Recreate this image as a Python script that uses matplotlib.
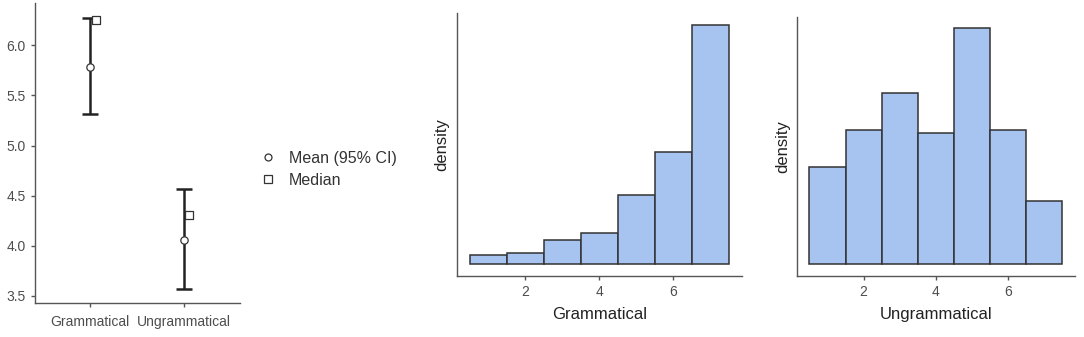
import matplotlib
matplotlib.use("Agg")
import matplotlib.pyplot as plt
from matplotlib.lines import Line2D

plt.rcParams['font.family'] = ['Liberation Sans', 'DejaVu Sans']

# descriptives
groups = ['Grammatical', 'Ungrammatical']
means = [5.78, 4.06]
ci_low = [5.31, 3.57]
ci_high = [6.27, 4.57]
medians = [6.25, 4.31]

# histograms (density per bin)
bin_centers = [1, 2, 3, 4, 5, 6, 7]
dens_gram = [0.018, 0.022, 0.049, 0.062, 0.139, 0.227, 0.483]
dens_ungram = [0.100, 0.139, 0.177, 0.136, 0.244, 0.139, 0.065]

fill = '#a6c4ef'
edge = '#333333'
axcol = '#555555'
tickcol = '#4d4d4d'

fig = plt.figure(figsize=(10.84, 3.37), dpi=100)


def style(ax):
    for s in ['top', 'right']:
        ax.spines[s].set_visible(False)
    for s in ['left', 'bottom']:
        ax.spines[s].set_color(axcol)
        ax.spines[s].set_linewidth(1.0)
    ax.tick_params(colors=axcol, labelcolor=tickcol, labelsize=10, length=3, width=1)


# --- left: means with CI ---
ax1 = fig.add_axes([0.0323, 0.1009, 0.189, 0.890])
xs = list(range(len(groups)))
for i in xs:
    ax1.errorbar(i, means[i], yerr=[[means[i] - ci_low[i]], [ci_high[i] - means[i]]],
                 fmt='none', ecolor='#222222', elinewidth=1.8, capsize=5.5, capthick=1.8, zorder=2)
ax1.scatter(xs, means, marker='o', s=28, facecolor='white', edgecolor='#333333',
            linewidth=0.9, zorder=3)
ax1.scatter([x + 0.06 for x in xs], medians, marker='s', s=36, facecolor='white',
            edgecolor='#333333', linewidth=0.9, zorder=3)
ax1.set_xlim(-0.59, 1.6)
ax1.set_ylim(3.43, 6.42)
ax1.set_xticks(xs)
ax1.set_xticklabels(groups)
ax1.set_yticks([3.5, 4.0, 4.5, 5.0, 5.5, 6.0])
ax1.set_yticklabels(['3.5', '4.0', '4.5', '5.0', '5.5', '6.0'])
style(ax1)
ax1.tick_params(axis='x', pad=6)

handles = [Line2D([], [], marker='o', ls='none', markersize=5, markerfacecolor='white',
                  markeredgecolor='#333333', markeredgewidth=0.9),
           Line2D([], [], marker='s', ls='none', markersize=6, markerfacecolor='white',
                  markeredgecolor='#333333', markeredgewidth=0.9)]
fig.legend(handles, ['Mean (95% CI)', 'Median'], loc='upper left',
           bbox_to_anchor=(0.2285, 0.595), frameon=False, fontsize=11.5,
           handlelength=0.8, handletextpad=0.9, labelspacing=0.45, labelcolor='#333333')


# --- histograms ---
def hist(ax, dens, label):
    ax.bar(bin_centers, dens, width=1.0, color=fill, edgecolor=edge, linewidth=1.1)
    ax.set_xlim(0.15, 7.85)
    top = max(dens)
    ax.set_ylim(-0.05 * top, 1.05 * top)
    ax.set_xticks([2, 4, 6])
    ax.set_yticks([])
    ax.set_xlabel(label, fontsize=12, color='#222222', labelpad=6)
    ax.set_ylabel('density', fontsize=12, color='#222222', labelpad=5)
    style(ax)


ax2 = fig.add_axes([0.4213, 0.1819, 0.2629, 0.7795])
hist(ax2, dens_gram, 'Grammatical')

ax3 = fig.add_axes([0.735, 0.1819, 0.2567, 0.7686])
hist(ax3, dens_ungram, 'Ungrammatical')

fig.savefig('out.png', dpi=100)
